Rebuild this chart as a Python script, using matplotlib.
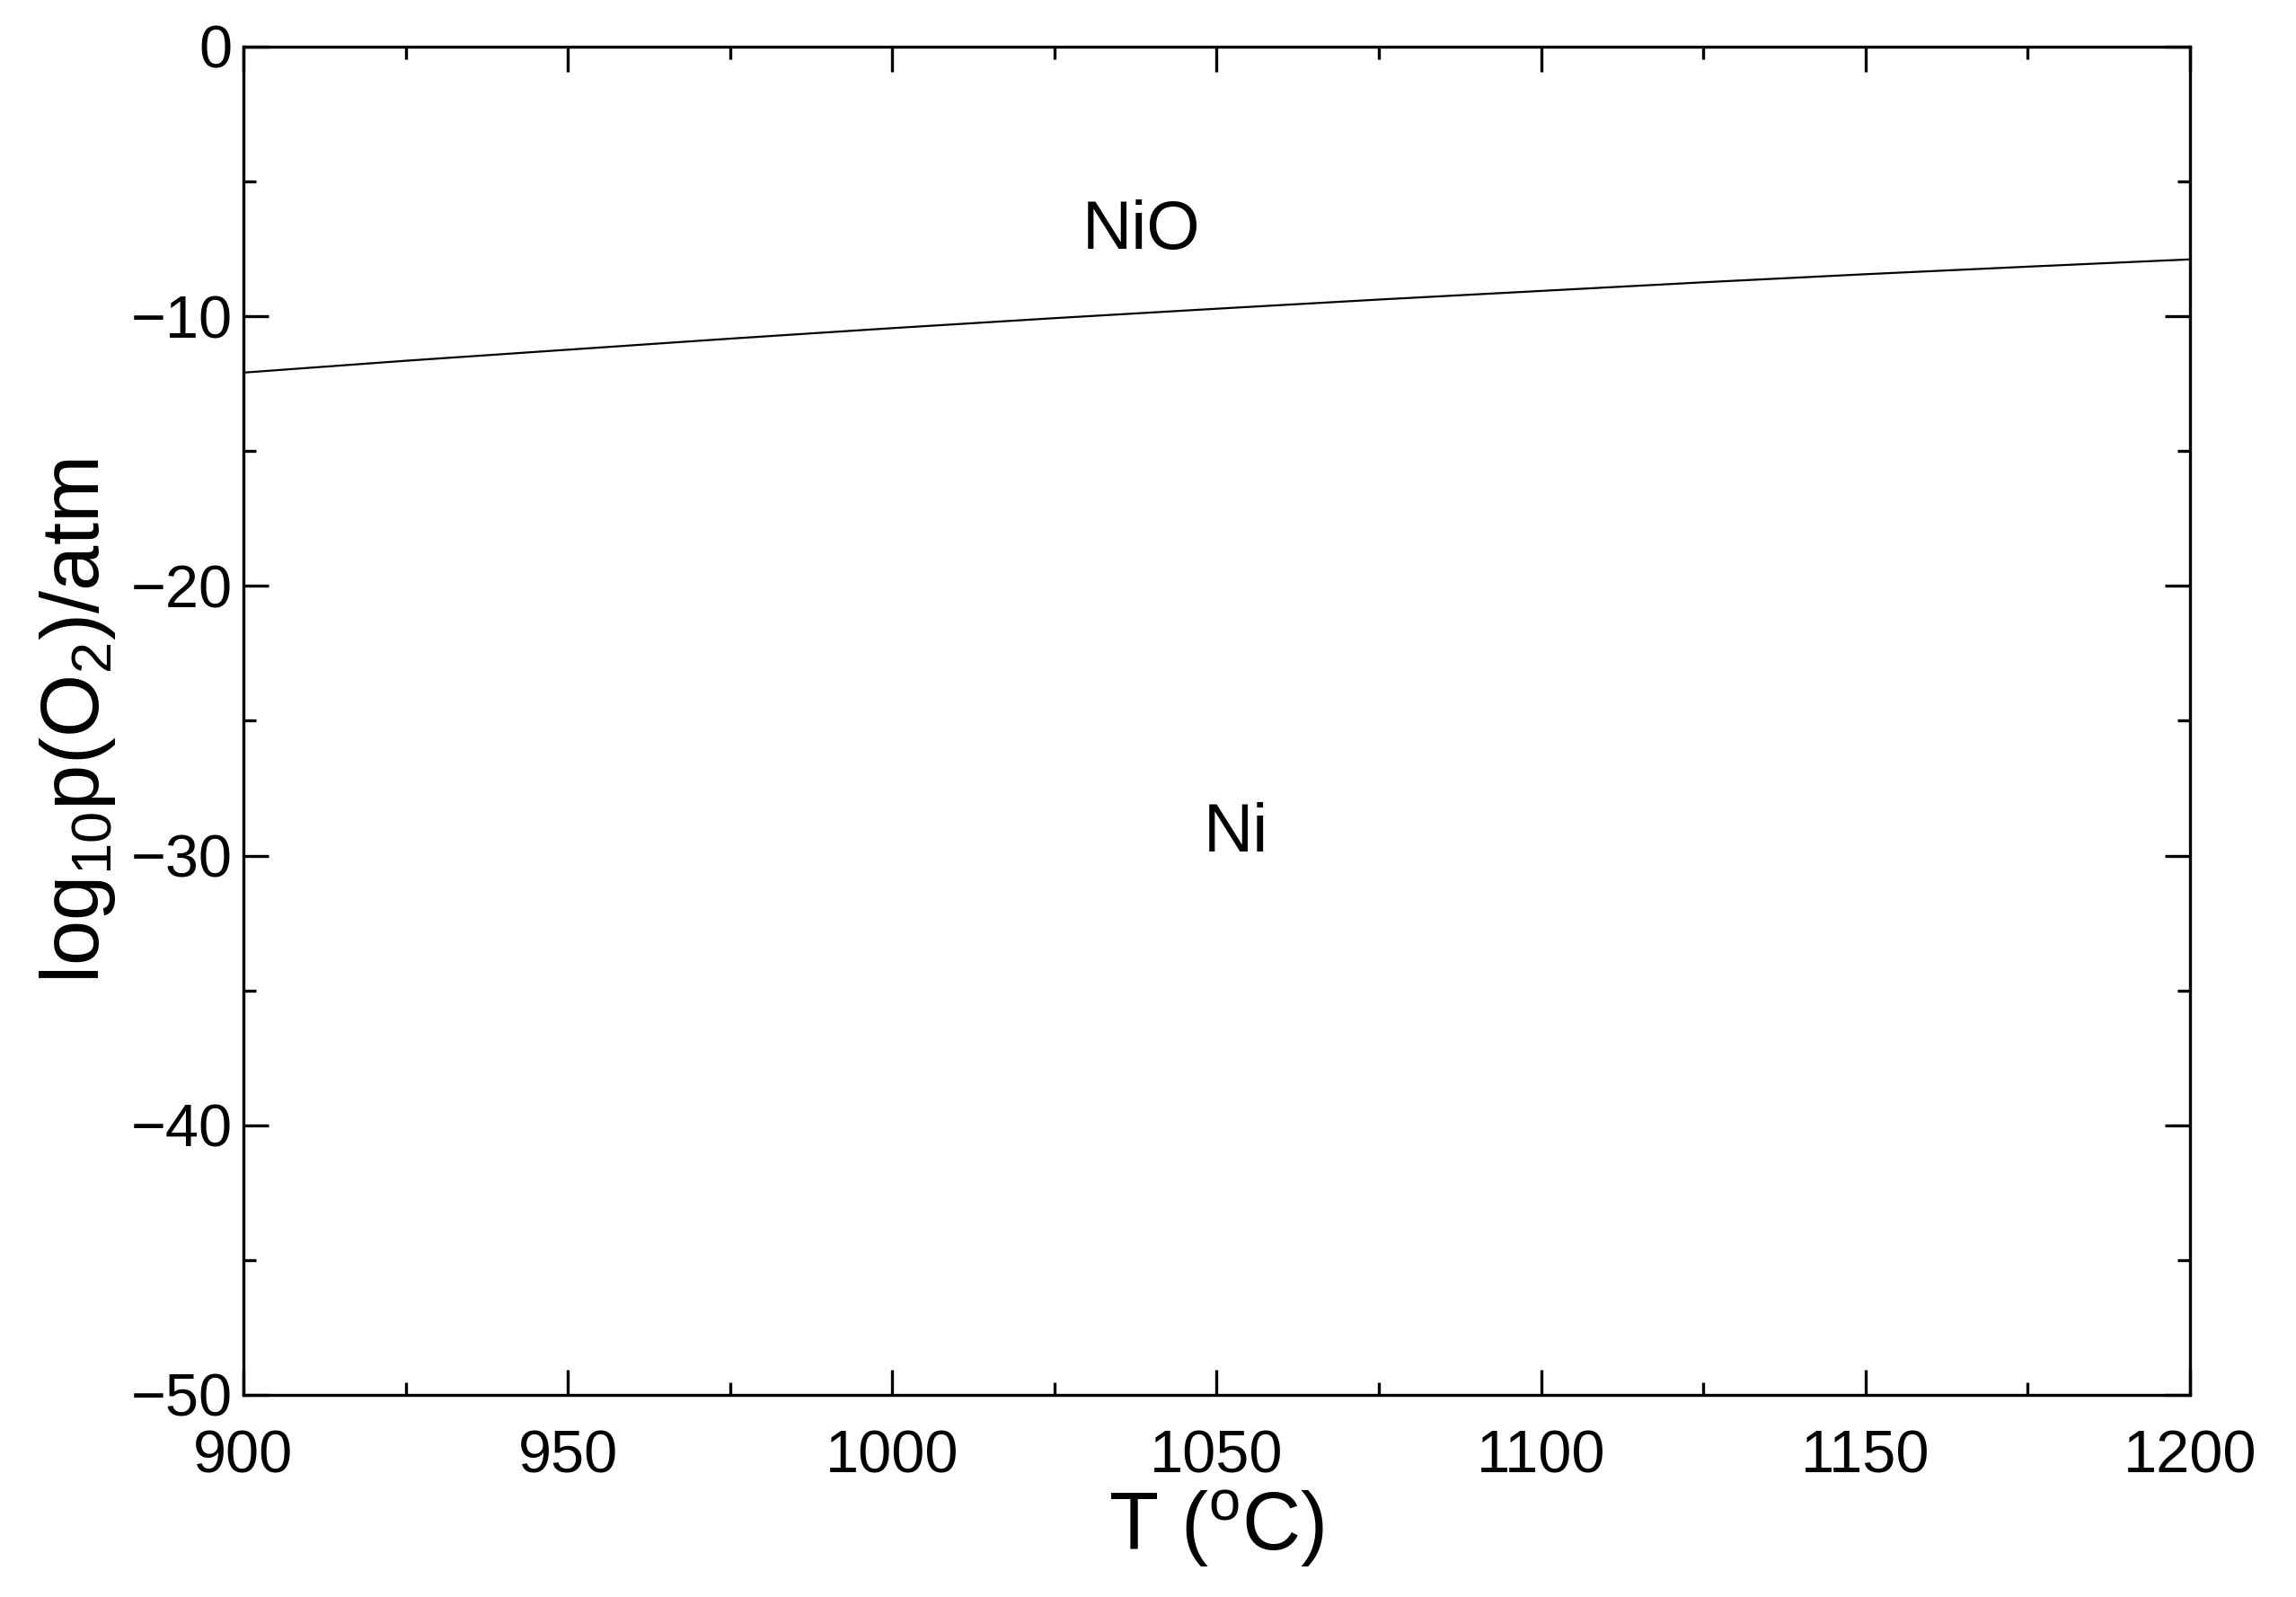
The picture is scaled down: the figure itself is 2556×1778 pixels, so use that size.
import numpy as np
import matplotlib
matplotlib.use('Agg')
import matplotlib.pyplot as plt
from matplotlib.ticker import MultipleLocator

# Ni/NiO equilibrium line
temp_c = [900, 925, 950, 975, 1000, 1025, 1050, 1075, 1100, 1125, 1150, 1175, 1200]
log_po2 = [-12.09, -11.65, -11.24, -10.83, -10.44, -10.07, -9.72, -9.38,
           -9.06, -8.74, -8.44, -8.16, -7.89]

region_labels = ['NiO', 'Ni']
region_pos = [(1029.3, -7.5), (1048.0, -29.85)]

plt.rcParams['font.family'] = ['Liberation Sans', 'DejaVu Sans']
plt.rcParams['mathtext.default'] = 'regular'

fig = plt.figure(figsize=(25.56, 17.78), dpi=100)
ax = fig.add_axes([0.106, 0.1266, 0.8478, 0.8442])

ax.plot(temp_c, log_po2, 'k-', lw=1.6)

for txt, (x, y) in zip(region_labels, region_pos):
    ax.text(x, y, txt, fontsize=55, ha='left', va='baseline')

ax.set_xlim(900, 1200)
ax.set_ylim(-50, 0)
ax.xaxis.set_major_locator(MultipleLocator(50))
ax.xaxis.set_minor_locator(MultipleLocator(25))
ax.yaxis.set_major_locator(MultipleLocator(10))
ax.yaxis.set_minor_locator(MultipleLocator(5))
ax.tick_params(which='both', direction='in', top=True, right=True, width=2.4)
ax.tick_params(which='major', length=20, labelsize=48)
ax.tick_params(which='minor', length=10)
ax.tick_params(axis='x', which='major', pad=28)
ax.tick_params(axis='y', which='major', pad=9)
for s in ax.spines.values():
    s.set_linewidth(2.4)

ax.set_xlabel(r'T ($^{o}$C)', fontsize=65, labelpad=2)
ax.set_ylabel(r'log$_{10}$p(O$_2$)/atm', fontsize=65, labelpad=10)

fig.savefig('out.png', dpi=100)
